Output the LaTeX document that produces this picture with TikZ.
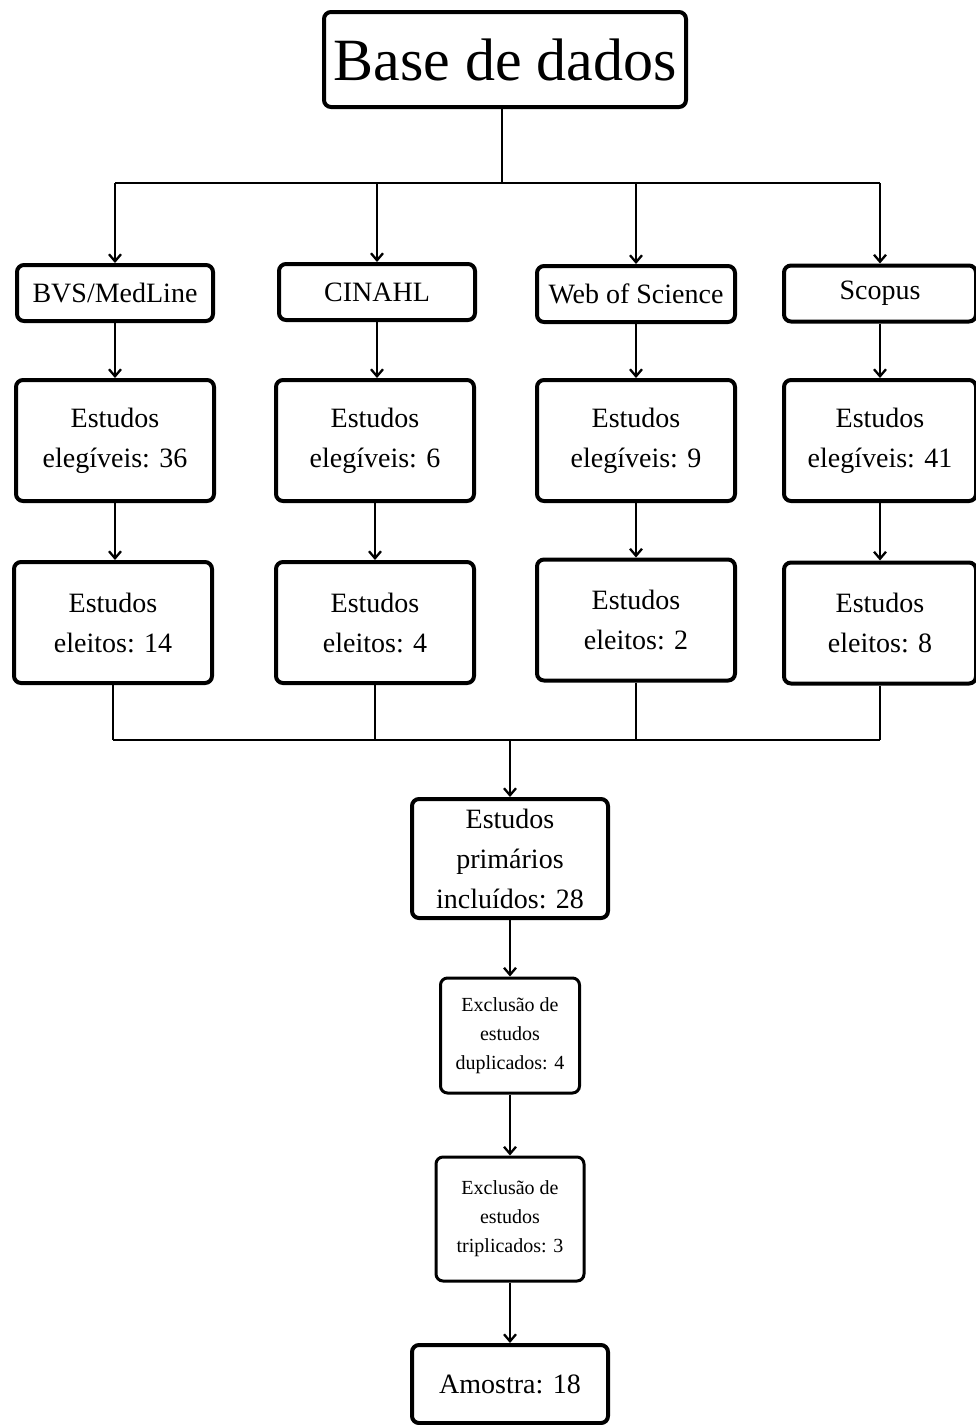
\documentclass[tikz,border=0pt]{standalone}
\usepackage{fontspec}
\setmainfont{Liberation Serif}
\usetikzlibrary{arrows.meta}
\begin{document}
\begin{tikzpicture}[x=1pt,y=-1pt,
  box/.style={draw, line width=4pt, rounded corners=7pt, inner sep=0pt, align=center,
    font=\fontsize{28}{40}\selectfont},
  topbox/.style={box, minimum width=196pt, minimum height=56pt},
  midbox/.style={box, minimum width=198pt, minimum height=121pt},
  smallbox/.style={box, line width=3pt, font=\fontsize{20}{29}\selectfont},
  conn/.style={line width=2.3pt},
  arr/.style={conn, -{Straight Barb[length=7pt,width=12pt,line width=2.3pt]}}]
\useasboundingbox (0,0) rectangle (976,1425);

\node[box, font=\fontsize{60}{70}\selectfont, minimum width=362pt, minimum height=95pt] (title) at (505,59.5) {Base de dados};

% row 1
\node[topbox] (b1) at (115,293) {BVS/MedLine};
\node[topbox] (c1) at (377,292) {CINAHL};
\node[topbox, minimum width=198pt] (w1) at (636,294) {Web of Science};
\node[topbox, minimum width=192pt] (s1) at (880,293.5) {Scopus};

% row 2
\node[midbox] (b2) at (115,440.5) {Estudos\\elegíveis: 36};
\node[midbox] (c2) at (375,440.5) {Estudos\\elegíveis: 6};
\node[midbox] (w2) at (636,440.5) {Estudos\\elegíveis: 9};
\node[midbox, minimum width=192pt] (s2) at (880,440.5) {Estudos\\elegíveis: 41};

% row 3
\node[midbox] (b3) at (113,622.5) {Estudos\\eleitos: 14};
\node[midbox] (c3) at (375,622.5) {Estudos\\eleitos: 4};
\node[midbox] (w3) at (636,620) {Estudos\\eleitos: 2};
\node[midbox, minimum width=192pt] (s3) at (880,623) {Estudos\\eleitos: 8};

% lower chain
\node[box, minimum width=196pt, minimum height=119pt] (prim) at (510,858.5) {Estudos\\primários\\incluídos: 28};
\node[smallbox, minimum width=139pt, minimum height=115pt] (dup) at (510,1035.5) {Exclusão de\\estudos\\duplicados: 4};
\node[smallbox, minimum width=148pt, minimum height=124pt] (tri) at (510,1219) {Exclusão de\\estudos\\triplicados: 3};
\node[box, minimum width=196pt, minimum height=78pt] (amo) at (510,1384) {Amostra: 18};

% top distribution
\coordinate (j) at (502,183);
\draw[conn] (title.south -| j) -- (j);
\draw[conn] (b1.north |- j) -- (s1.north |- j);
\foreach \n in {b1,c1,w1,s1}{
  \draw[arr] (\n.north |- j) -- (\n.north);
}

% columns
\foreach \a/\b in {b1/b2,c1/c2,w1/w2,s1/s2}{
  \draw[arr] (\a.south) -- (\a.south |- \b.north);
}
\foreach \a/\b in {b2/b3,c2/c3,w2/w3,s2/s3}{
  \draw[arr] (\a.south) -- (\a.south |- \b.north);
}

% merge
\coordinate (m) at (510,740);
\foreach \n in {b3,c3,w3,s3}{
  \draw[conn] (\n.south) -- (\n.south |- m);
}
\draw[conn] (b3.south |- m) -- (s3.south |- m);
\draw[arr] (m) -- (prim.north);

\draw[arr] (prim.south) -- (dup.north);
\draw[arr] (dup.south) -- (tri.north);
\draw[arr] (tri.south) -- (amo.north);
\end{tikzpicture}
\end{document}
